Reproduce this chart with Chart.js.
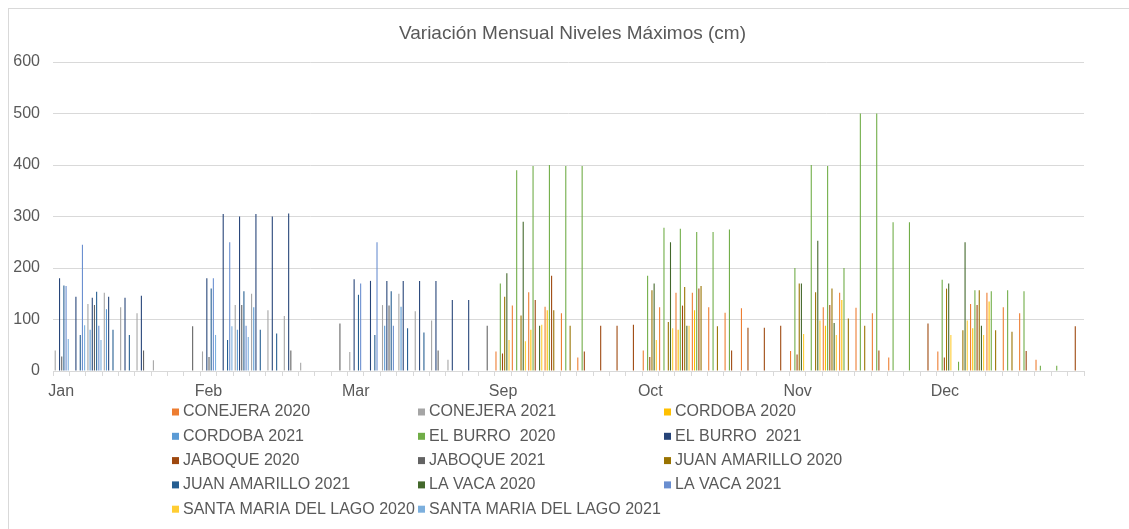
<!DOCTYPE html>
<html lang="es">
<head>
<meta charset="UTF-8">
<title>Variación Mensual Niveles Máximos (cm)</title>
<style>
  body { margin: 0; background: #fff; }
  #chart { display: block; }
</style>
</head>
<body>
<canvas id="chart" width="1129" height="529"></canvas>
<script src="https://cdn.jsdelivr.net/npm/chart.js"></script>
<script>
// each month is shown as 9 slots on the axis, label only on the first one
const _ = null;
const months = ['Jan', 'Feb', 'Mar', 'Sep', 'Oct', 'Nov', 'Dec'];
const slotsPerMonth = 9;
const categories = months.flatMap(m => [m].concat(Array(slotsPerMonth - 1).fill('')));

const chartTitle = 'Variación Mensual Niveles Máximos (cm)';
const yMax = 600;
const yStep = 100;

// one row per month: Jan, Feb, Mar, Sep, Oct, Nov, Dec
const conejera2020 = [
    _, _, _, _, _, _, _, _, _,
    _, _, _, _, _, _, _, _, _,
    _, _, _, _, _, _, _, _, _,
    38, 127, 153, 125, 112, 26, _, _, _,
    40, 124, 152, 152, 124, 113, 122, _, _,
    39, _, 124, 152, 123, 112, 26, _, _,
    38, _, 130, 152, 124, 112, 22, _, _
];
const conejera2021 = [
    40, _, 130, 152, 124, 112, 21, _, _,
    38, _, 128, 150, 118, 107, 16, _, _,
    37, _, 128, 150, 116, 98, 22, _, _,
    _, _, _, _, _, _, _, _, _,
    _, _, _, _, _, _, _, _, _,
    _, _, _, _, _, _, _, _, _,
    _, _, _, _, _, _, _, _, _
];
const cordoba2020 = [
    _, _, _, _, _, _, _, _, _,
    _, _, _, _, _, _, _, _, _,
    _, _, _, _, _, _, _, _, _,
    _, _, 80, 118, _, _, _, _, _,
    _, _, 80, 118, _, _, _, _, _,
    _, _, 88, 138, _, _, _, _, _,
    _, _, 83, 135, _, _, _, _, _
];
const cordoba2021 = [
    _, _, 80, 120, _, _, _, _, _,
    _, _, 80, 124, _, _, _, _, _,
    _, _, 88, 125, _, _, _, _, _,
    _, _, _, _, _, _, _, _, _,
    _, _, _, _, _, _, _, _, _,
    _, _, _, _, _, _, _, _, _,
    _, _, _, _, _, _, _, _, _
];
const elBurro2020 = [
    _, _, _, _, _, _, _, _, _,
    _, _, _, _, _, _, _, _, _,
    _, _, _, _, _, _, _, _, _,
    170, 390, 398, 400, 398, 398, _, _, _,
    185, 278, 276, 270, 270, 275, _, _, _,
    200, 400, 398, 200, 500, 500, 289, 289, _,
    177, 18, 157, 155, 157, 155, 10, 10, _
];
const elBurro2021 = [
    180, 144, 142, 144, 142, 146, _, _, _,
    180, 305, 300, 305, 300, 306, _, _, _,
    178, 175, 175, 175, 175, 175, 138, 138, _,
    _, _, _, _, _, _, _, _, _,
    _, _, _, _, _, _, _, _, _,
    _, _, _, _, _, _, _, _, _,
    _, _, _, _, _, _, _, _, _
];
const jaboque2020 = [
    _, _, _, _, _, _, _, _, _,
    _, _, _, _, _, _, _, _, _,
    _, _, _, _, _, _, _, _, _,
    34, _, 138, 185, _, 38, 88, 88, 90,
    27, _, 127, 160, _, 40, 84, 84, 88,
    32, _, 128, _, _, 40, _, _, 92,
    26, _, 128, _, _, 39, _, _, 87
];
const jaboque2021 = [
    28, _, 128, _, _, 40, _, _, 87,
    27, _, 128, _, _, 40, _, _, 92,
    _, _, 127, _, _, 40, _, _, 88,
    _, _, _, _, _, _, _, _, _,
    _, _, _, _, _, _, _, _, _,
    _, _, _, _, _, _, _, _, _,
    _, _, _, _, _, _, _, _, _
];
const juanAmarillo2020 = [
    _, _, _, _, _, _, _, _, _,
    _, _, _, _, _, _, _, _, _,
    _, _, _, _, _, _, _, _, _,
    144, 108, _, 118, 88, _, _, _, _,
    157, 95, 163, 165, 87, _, _, _, _,
    170, 153, 160, 102, 88, _, _, _, _,
    160, 79, 157, 79, 76, _, _, _, _
];
const juanAmarillo2021 = [
    166, 70, 154, 80, 70, _, _, _, _,
    160, 60, 155, 80, 73, _, _, _, _,
    148, 70, 155, 83, 75, _, _, _, _,
    _, _, _, _, _, _, _, _, _,
    _, _, _, _, _, _, _, _, _,
    _, _, _, _, _, _, _, _, _,
    _, _, _, _, _, _, _, _, _
];
const laVaca2020 = [
    _, _, _, _, _, _, _, _, _,
    _, _, _, _, _, _, _, _, _,
    _, _, _, _, _, _, _, _, _,
    190, 290, 88, _, _, _, _, _, _,
    170, 250, 88, _, _, _, _, _, _,
    170, 253, 93, _, _, _, _, _, _,
    170, 250, 88, _, _, _, _, _, _
];
const laVaca2021 = [
    165, 245, 88, _, _, _, _, _, _,
    180, 250, 88, _, _, _, _, _, _,
    170, 250, 88, _, _, _, _, _, _,
    _, _, _, _, _, _, _, _, _,
    _, _, _, _, _, _, _, _, _,
    _, _, _, _, _, _, _, _, _,
    _, _, _, _, _, _, _, _, _
];
const santaMaria2020 = [
    _, _, _, _, _, _, _, _, _,
    _, _, _, _, _, _, _, _, _,
    _, _, _, _, _, _, _, _, _,
    60, 58, 90, _, _, _, _, _, _,
    60, 83, 88, _, _, _, _, _, _,
    72, 98, 70, _, _, _, _, _, _,
    70, 98, 70, _, _, _, _, _, _
];
const santaMaria2021 = [
    62, 89, 60, _, _, _, _, _, _,
    70, 87, 66, _, _, _, _, _, _,
    _, _, _, _, _, _, _, _, _,
    _, _, _, _, _, _, _, _, _,
    _, _, _, _, _, _, _, _, _,
    _, _, _, _, _, _, _, _, _,
    _, _, _, _, _, _, _, _, _
];

const seriesNames = [
    'CONEJERA 2020', 'CONEJERA 2021', 'CORDOBA 2020', 'CORDOBA 2021',
    'EL BURRO  2020', 'EL BURRO  2021', 'JABOQUE 2020', 'JABOQUE 2021',
    'JUAN AMARILLO 2020', 'JUAN AMARILLO 2021', 'LA VACA 2020', 'LA VACA 2021',
    'SANTA MARIA DEL LAGO 2020', 'SANTA MARIA DEL LAGO 2021'
];
const seriesValues = [
    conejera2020, conejera2021, cordoba2020, cordoba2021,
    elBurro2020, elBurro2021, jaboque2020, jaboque2021,
    juanAmarillo2020, juanAmarillo2021, laVaca2020, laVaca2021,
    santaMaria2020, santaMaria2021
];
const seriesColors = [
    '#ED7D31', '#A5A5A5', '#FFC000', '#5B9BD5',
    '#70AD47', '#264478', '#9E480E', '#636363',
    '#997300', '#255E91', '#43682B', '#698ED0',
    '#FFCD33', '#7CAFDD'
];

const FONT = '"Liberation Sans", Arial, sans-serif';
const TEXT = '#595959';
const LINE = '#D9D9D9';
Chart.defaults.font.family = FONT;
Chart.defaults.color = TEXT;

// outer frame + title (the excel chart object is wider than the picture,
// so the title is centred on the frame, not on the plot)
const frame = {
    id: 'frame',
    beforeDraw(chart) {
        const ctx = chart.ctx;
        ctx.save();
        ctx.fillStyle = '#fff';
        ctx.fillRect(0, 0, chart.width, chart.height);
        ctx.strokeStyle = LINE;
        ctx.lineWidth = 1;
        ctx.strokeRect(8.5, 8.5, chart.width + 20, chart.height + 20);
        ctx.font = '19px ' + FONT;
        ctx.fillStyle = TEXT;
        ctx.textAlign = 'center';
        ctx.textBaseline = 'middle';
        ctx.fillText(chartTitle, 572.5, 34);
        ctx.restore();
    }
};

// legend laid out as a 3 column grid, like the Excel one
const gridLegend = {
    id: 'gridLegend',
    afterDraw(chart) {
        const ctx = chart.ctx;
        ctx.save();
        ctx.font = '16px ' + FONT;
        ctx.textBaseline = 'middle';
        chart.data.datasets.forEach((ds, i) => {
            const x = 172 + (i % 3) * 246;
            const y = 412 + Math.floor(i / 3) * 24.3;
            ctx.fillStyle = ds.backgroundColor;
            ctx.fillRect(x, y - 3.5, 7, 7);
            ctx.fillStyle = TEXT;
            ctx.fillText(ds.label, x + 11, y);
        });
        ctx.restore();
    }
};

new Chart(document.getElementById('chart'), {
    type: 'bar',
    data: {
        labels: categories,
        datasets: seriesNames.map((name, i) => ({
            label: name,
            data: seriesValues[i],
            backgroundColor: seriesColors[i],
            borderWidth: 0,
            inflateAmount: 0,
            categoryPercentage: 0.93,
            barPercentage: 1
        }))
    },
    options: {
        responsive: false,
        animation: false,
        layout: {
            padding: {left: 8, right: 45, top: 62, bottom: 128}
        },
        plugins: {
            legend: {display: false},
            tooltip: {enabled: false},
            title: {display: false}
        },
        scales: {
            x: {
                offset: true,
                afterFit(scale) { scale.height = 30; },
                grid: {
                    offset: true,
                    drawOnChartArea: false,
                    drawTicks: true,
                    tickLength: 5,
                    color: LINE
                },
                border: {display: true, color: LINE},
                ticks: {
                    autoSkip: false,
                    maxRotation: 0,
                    padding: 6,
                    color: TEXT,
                    font: {size: 16}
                }
            },
            y: {
                min: 0,
                max: yMax,
                afterFit(scale) { scale.width = 45; },
                grid: {color: LINE, drawTicks: false},
                border: {display: false},
                ticks: {
                    stepSize: yStep,
                    padding: 13,
                    color: TEXT,
                    font: {size: 16}
                }
            }
        }
    },
    plugins: [frame, gridLegend]
});
</script>
</body>
</html>
